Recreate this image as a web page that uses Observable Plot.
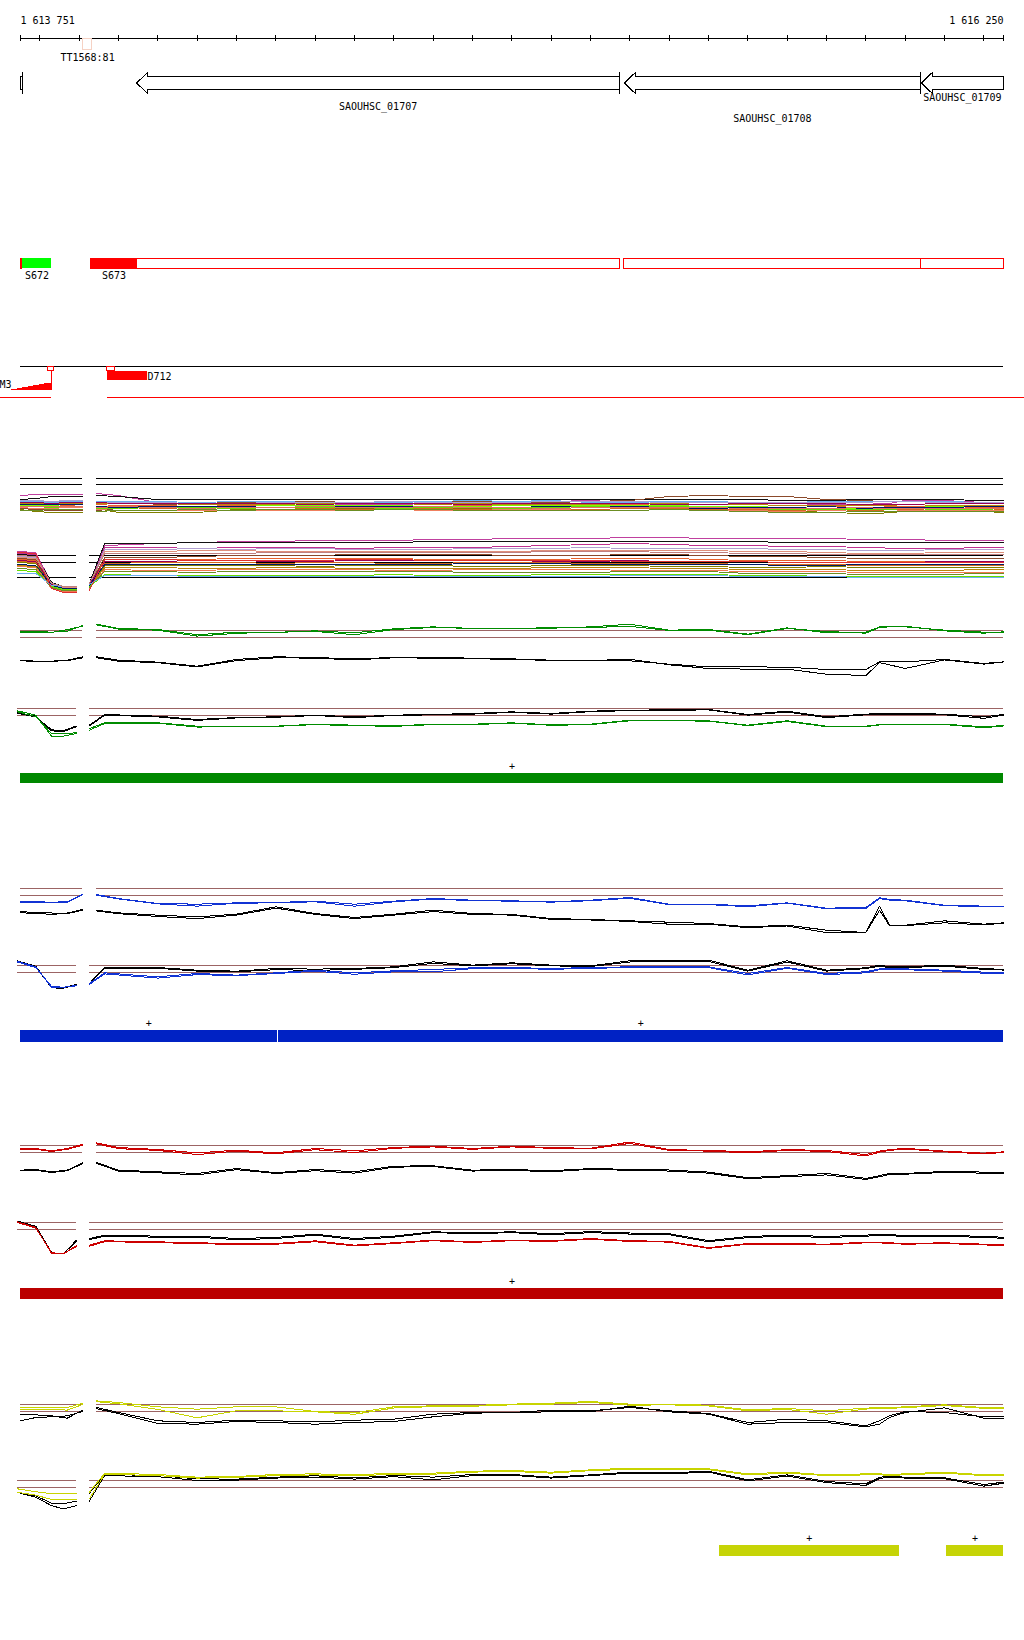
<!DOCTYPE html>
<html>
<head>
<meta charset="utf-8">
<script src="https://cdn.jsdelivr.net/npm/d3@7"></script>
<script src="https://cdn.jsdelivr.net/npm/@observablehq/plot@0.6"></script>
<style>
html,body{margin:0;padding:0;background:#fff;}
#page{position:relative;width:1024px;height:1640px;overflow:hidden;background:#fff;}
#page svg{position:absolute;left:0;}
#page svg path, #page svg line, #page svg rect{shape-rendering:crispEdges;}
</style>
</head>
<body>
<div id="page"></div>
<script>
// ================= DATA =================
const START = 1613751, END = 1616250;
const endLabels = ["1 613 751", "1 616 250"];
const rulerTicks = d3.range(1613800, 1616201, 100);

// genes (all on minus strand)
const geneNames  = ["SAOUHSC_01706", "SAOUHSC_01707", "SAOUHSC_01708", "SAOUHSC_01709"];
const geneStarts = [1613180, 1614046, 1615286, 1616041];
const geneEnds   = [1613756, 1615274, 1616039, 1616420];
const geneLabelled = [false, true, true, true];

// terminator
const ttNames = ["TT1568:81"];
const ttStarts = [1613909];
const ttEnds = [1613934];

// segments S672 / S673
const segNames = ["S672", "S673"];
const segCoreStarts = [1613756, 1613929];
const segCoreEnds = [1613830, 1614048];
const segBoxStarts = [1613751, 1613929, 1615286, 1616039];
const segBoxEnds = [1613756, 1615274, 1616039, 1616250];

// M3 / D712
const m3Name = "M3";
const m3X = [1613728, 1613743, 1613756, 1613771, 1613784, 1613799, 1613812, 1613830];
const m3H = [0.7, 1.7, 2.7, 3.7, 4.7, 5.7, 6.7, 7.3];
const d712Name = "D712";
const d712Starts = [1613972];
const d712Ends = [1614074];
const probeStarts = [1613820, 1613972];
const probeEnds = [1613836, 1613992];
const redBaseStarts = [1613700, 1613972];
const redBaseEnds = [1613830, 1616303];

// transcription units
const tuTracks = ["green", "blue", "blue", "red", "yellow", "yellow"];
const tuStarts = [1613751, 1613751, 1614406, 1613751, 1615528, 1616105];
const tuEnds = [1616250, 1614403.5, 1616250, 1616250, 1615985, 1616250];
const tuStrands = ["+", "+", "+", "+", "+", "+"];

// probe positions (5 left of gap, 27 right of gap)
const posTop = [1613751,1613790,1613830,1613870,1613909,1613944,1614000,1614100,1614200,1614300,1614400,1614500,1614600,1614700,1614800,1614900,1615000,1615100,1615200,1615300,1615400,1615500,1615600,1615700,1615800,1615900,1615935,1615960,1616000,1616100,1616200,1616250];
const posBottom = [1613743,1613790,1613830,1613860,1613893,1613926,1613965,1614100,1614200,1614300,1614400,1614500,1614600,1614700,1614800,1614900,1615000,1615100,1615200,1615300,1615400,1615500,1615600,1615700,1615800,1615900,1615935,1615960,1616000,1616100,1616200,1616250];

// multi-condition cluster A (upper)
const clusterAColors = ["#c0409f","#111111","#8b4a2b","#808000","#e8622b","#d2691e","#6ab0f0","#a8a0d4","#7cfc00","#b8860b","#990055","#001a66","#f08060","#6b8e23","#66dd00","#e07060"];
const clusterA = [
 [23,24,24,24,24, 25,23,16,15,14,14,15,14,14,15, 14,15,19,18,16,15,14,14,15,14, 14,15,15,18,18,16,15],
 [19,20,22,22,22, 23,22,19,19,19,19,19,19,19,19, 19,19,19,19,19,19,19,19,18,18, 19,19,19,19,19,18,18],
 [10,9,8,8,8, 8,10,14,15,16,16,17,16,17,17, 17,16,16,17,18,22,23,22,22,19, 18,17,17,17,16,16,16],
 [9,7,6,6,6, 10,6,6,6,9,9,10,10,9,10, 10,9,10,11,11,10,10,9,8,6, 5,5,6,7,8,7,6],
 [13,14,14,13,14, 14,13,13,12,13,13,12,13,12,12, 13,13,12,13,14,13,12,12,11,12, 11,11,12,12,12,11,11],
 [11,12,12,11,11, 10,11,10,9,10,9,10,9,10,10, 9,10,10,9,10,10,9,9,8,9, 8,8,9,9,10,10,9],
 [17,17,16,17,17, 17,17,17,16,17,17,16,16,16,17, 18,17,18,16,16,17,17,16,16,17, 17,17,17,17,17,16,16],
 [18,18,17,18,18, 16,16,16,15,15,16,16,16,17,16, 16,16,17,17,17,16,16,16,16,16, 16,17,17,17,16,16,16],
 [13,13,13,12,12, 12,12,11,11,12,13,13,13,13,12, 12,13,13,13,13,13,12,12,11,10, 10,11,11,11,12,12,12],
 [15,15,15,15,15, 15,15,15,14,14,14,15,15,15,14, 15,14,14,14,15,15,14,14,13,13, 13,13,13,14,13,13,13],
 [16,16,15,16,16, 16,15,15,15,15,15,14,15,15,15, 14,15,15,15,15,14,14,15,15,15, 14,14,14,14,15,15,15],
 [14,14,14,14,14, 12,11,12,12,12,11,11,12,12,11, 11,11,12,12,12,11,10,11,11,12, 10,11,11,11,11,12,12],
 [11,10,10,11,11, 9,8,8,8,8,8,8,8,9,8, 8,9,9,8,8,9,8,8,7,8, 7,7,7,8,8,8,8],
 [8,8,9,9,9, 7,8,8,9,8,9,9,8,9,9, 8,8,8,8,8,9,8,7,6,6, 7,7,7,7,7,7,7],
 [12,12,11,12,12, 10,10,11,11,10,11,11,11,10,11, 11,10,11,12,11,12,11,10,9,9, 9,9,9,10,9,9,10],
 [12,12,12,12,12, 11,12,11,10,11,11,12,11,11,12, 11,11,10,11,11,11,11,10,10,10, 11,10,10,10,10,10,10]
];
const clusterARefs = [40, 34];

// multi-condition cluster B (lower)
const clusterBColors = ["#c0409f","#111111","#c03090","#b0a0d0","#e0907a","#8b4a2b","#e8622b","#d2691e","#808000","#990055","#001a66","#b8860b","#f07850","#6b8e23","#66dd00","#6ab0f0","#e03030","#c08080"];
const clusterB = [
 [44,43,12,8,8, 10,50,52,53,54,54,55,55,55,56, 56,57,57,57,58,58,57,57,57,57, 56,56,56,56,55,55,55],
 [41,40,13,9,9, 12,52,52,53,53,53,53,53,53,54, 54,54,54,54,54,54,54,54,53,53, 53,53,53,53,53,53,53],
 [42,41,11,6,6, 8,48,48,47,48,48,48,47,48,48, 48,49,50,51,52,51,50,50,49,49, 48,48,47,47,47,48,48],
 [39,38,12,7,7, 9,46,46,47,46,47,47,46,46,46, 47,47,47,48,47,47,47,47,46,46, 45,45,45,45,46,46,46],
 [38,37,11,8,8, 8,44,44,45,45,44,44,44,44,44, 44,44,45,45,45,45,45,44,44,43, 42,42,42,42,43,43,43],
 [37,36,9,6,6, 10,38,38,39,40,40,40,41,41,41, 41,40,40,40,41,41,40,39,39,38, 37,37,37,37,37,37,37],
 [36,35,10,5,5, 7,36,36,36,37,37,37,37,37,36, 36,36,36,37,37,37,36,35,35,35, 34,34,34,34,34,34,34],
 [34,33,8,4,4, 6,32,33,33,33,32,33,33,32,32, 33,33,33,32,32,32,32,31,31,31, 30,30,30,30,30,30,30],
 [33,32,9,6,6, 9,30,30,30,30,30,29,30,30,30, 29,29,30,30,30,29,29,28,28,29, 28,28,28,28,28,28,28],
 [35,34,11,7,7, 11,34,34,35,35,34,34,35,35,35, 35,35,34,34,35,34,34,34,33,33, 33,33,33,33,34,34,34],
 [31,30,10,7,7, 10,31,31,31,31,31,31,31,31,31, 32,32,32,31,31,31,31,31,30,30, 31,31,31,31,31,31,31],
 [30,29,8,5,5, 8,28,28,27,27,28,28,27,27,27, 27,27,28,28,28,27,27,26,26,26, 25,25,25,25,25,26,26],
 [29,28,7,4,4, 7,26,25,25,26,26,26,26,25,25, 26,26,26,26,25,25,25,24,24,24, 23,23,23,23,23,23,23],
 [27,26,8,5,5, 8,24,24,23,24,24,24,24,24,24, 23,23,23,23,24,24,24,22,22,22, 21,21,21,21,21,22,22],
 [25,24,9,6,6, 9,21,20,20,20,20,20,20,21,20, 20,20,21,21,21,21,21,20,20,19, 19,19,19,19,19,19,19],
 [22,22,10,9,9, 11,20,20,19,19,19,19,19,19,19, 19,19,19,19,20,20,20,19,19,19, 18,18,18,18,18,18,18],
 [43,42,7,3,3, 5,36,36,35,35,35,35,36,36,35, 35,35,35,35,34,34,34,34,33,33, 33,33,33,33,33,33,33],
 [40,39,12,9,9, 12,42,42,42,42,43,43,43,43,43, 43,43,44,44,44,43,43,42,42,41, 41,41,41,41,41,41,41]
];
const clusterBRefs = [40, 33, 18];

// single-condition tracks (values relative to threshold lines at 1 and 0)
const greenTopGreen1 = [0.86,0.86,0.76,0.9,1.71, 1.9,1.29,1.14,0.4,0.76,0.71,0.95,0.67,1.24,1.52, 1.24,1.33,1.33,1.52,1.9,1.05,1.14,0.48,1.38,0.67, 0.76,1.52,1.62,1.62,0.95,0.62,0.81];
const greenTopGreen2 = [0.71,0.76,0.71,1.14,1.62, 1.81,1.2,1.05,0.2,0.6,0.76,0.86,0.4,1.14,1.43, 1.33,1.24,1.43,1.43,1.6,1.0,1.05,0.4,1.29,0.86, 0.62,1.43,1.52,1.52,1.05,0.76,0.76];
const greenTopBlack1 = [-3.24,-3.38,-3.38,-3.24,-2.76, -2.76,-3.24,-3.52,-4.1,-3.14,-2.76,-2.86,-3.05,-2.86,-2.86, -2.95,-3.05,-3.24,-3.24,-3.33,-3.81,-4.19,-4.19,-4.24,-4.57, -4.57,-3.48,-3.48,-3.48,-3.14,-3.71,-3.48];
const greenTopBlack2 = [-3.3,-3.45,-3.4,-3.3,-2.9, -2.9,-3.38,-3.6,-4.2,-3.3,-2.9,-2.95,-3.2,-2.9,-2.95, -3.05,-3.1,-3.3,-3.3,-3.1,-3.9,-4.43,-4.52,-4.52,-5.24, -5.43,-3.6,-3.9,-4.43,-3.2,-3.8,-3.5];
const greenBotGreen1 = [0.67,0.05,-2.95,-2.95,-2.57, -1.86,-1.05,-1.05,-1.52,-1.52,-1.52,-1.24,-1.38,-1.48,-1.24, -1.24,-1.05,-1.33,-1.24,-0.67,-0.67,-0.76,-1.38,-0.76,-1.52, -1.52,-1.3,-1.24,-1.24,-1.24,-1.62,-1.43];
const greenBotGreen2 = [0.52,-0.19,-2.57,-2.57,-2.48, -2.1,-1.15,-1.1,-1.65,-1.6,-1.55,-1.3,-1.45,-1.55,-1.3, -1.3,-1.1,-1.4,-1.3,-0.76,-0.76,-0.8,-1.45,-0.85,-1.6, -1.6,-1.35,-1.3,-1.3,-1.3,-1.75,-1.5];
const greenBotBlack1 = [0.43,-0.1,-2.19,-2.29,-1.62, -1.38,0.14,-0.1,-0.57,-0.29,-0.19,0.05,-0.19,0.05,0.14, 0.29,0.52,0.29,0.62,0.76,0.81,0.86,0.14,0.62,-0.19, 0.19,0.29,0.29,0.29,0.19,-0.19,0.14];
const greenBotBlack2 = [0.33,-0.2,-2.05,-2.15,-1.5, -1.5,0.05,-0.2,-0.7,-0.35,-0.25,0.0,-0.3,0.0,0.1, 0.2,0.45,0.2,0.55,0.7,0.75,0.8,0.05,0.5,-0.3, 0.1,0.2,0.2,0.2,0.1,-0.4,0.05];

const blueTopBlue1 = [-0.9,-0.9,-0.95,-0.9,0.19, 0.14,-0.43,-1.14,-1.24,-1.05,-1.0,-0.81,-1.24,-0.81,-0.43, -0.67,-0.76,-0.9,-0.67,-0.29,-1.24,-1.24,-1.48,-1.05,-1.81, -1.71,-0.33,-0.57,-0.67,-1.38,-1.52,-1.52];
const blueTopBlue2 = [-1.0,-1.0,-1.05,-0.95,0.1, 0.05,-0.5,-1.2,-1.52,-1.1,-1.05,-0.9,-1.52,-0.9,-0.5, -0.75,-0.8,-0.95,-0.75,-0.4,-1.3,-1.3,-1.6,-1.1,-1.9, -1.85,-0.45,-0.65,-0.75,-1.45,-1.6,-1.55];
const blueTopBlack1 = [-2.33,-2.4,-2.5,-2.5,-2.0, -2.1,-2.48,-2.81,-3.05,-2.67,-1.62,-2.57,-3.14,-2.67,-2.1, -2.57,-2.71,-3.29,-3.43,-3.62,-3.81,-4.0,-4.48,-4.24,-4.95, -5.29,-1.52,-4.24,-4.24,-3.62,-4.1,-3.9];
const blueTopBlack2 = [-2.45,-2.6,-2.67,-2.6,-2.1, -2.2,-2.6,-3.0,-3.3,-2.8,-1.8,-2.7,-3.3,-2.8,-2.3, -2.7,-2.8,-3.4,-3.5,-3.7,-4.1,-4.1,-4.6,-4.35,-5.29, -5.29,-2.1,-4.3,-4.3,-3.9,-4.2,-3.95];
const blueBotBlue1 = [1.62,0.81,-2.14,-2.14,-1.81, -1.57,-0.05,-0.62,-0.14,-0.38,-0.05,0.33,-0.05,0.24,0.43, 0.67,0.71,0.57,0.71,0.81,0.81,0.81,-0.14,0.71,-0.14, 0.1,0.52,0.52,0.52,0.33,0.05,-0.05];
const blueBotBlue2 = [1.5,0.7,-2.0,-2.1,-1.9, -1.7,-0.2,-0.8,-0.3,-0.45,-0.15,0.2,-0.25,0.1,0.1, 0.55,0.6,0.45,0.6,0.7,0.7,0.7,-0.35,0.6,-0.3, -0.05,0.4,0.4,0.4,0.2,-0.1,-0.15];
const blueBotBlack1 = [1.67,0.9,-2.2,-2.24,-1.75, -1.57,0.71,0.71,0.33,0.19,0.57,0.48,0.57,0.81,1.52, 1.05,1.38,1.05,0.95,1.67,1.67,1.76,0.33,1.67,0.33, 0.67,1.05,0.81,0.81,1.05,0.57,0.43];
const blueBotBlack2 = [1.57,0.75,-2.1,-2.2,-1.7, -1.6,0.6,0.6,0.2,0.1,0.4,0.3,0.45,0.7,1.3, 0.95,1.25,0.95,0.85,1.5,1.55,1.6,0.2,1.5,0.2, 0.55,0.9,0.7,0.7,0.9,0.45,0.35];

const redTopRed1 = [0.57,0.57,0.24,0.57,1.19, 1.38,0.71,0.43,-0.05,0.33,-0.05,0.57,0.24,0.71,0.9, 0.57,0.9,0.7,0.6,1.5,0.4,0.3,0.1,0.4,0.3, -0.3,0.2,0.4,0.6,0.2,-0.1,0.1];
const redTopRed2 = [0.45,0.45,0.15,0.45,1.05, 1.25,0.55,0.3,-0.3,0.2,-0.2,0.4,0.0,0.6,0.8, 0.45,0.8,0.6,0.5,1.3,0.3,0.2,-0.05,0.3,0.15, -0.5,0.05,0.3,0.5,0.1,-0.2,0.0];
const redTopBlack1 = [-2.52,-2.43,-2.76,-2.52,-1.48, -1.43,-2.52,-2.76,-3.0,-2.29,-2.9,-2.43,-2.76,-1.95,-1.9, -2.52,-2.43,-2.6,-2.3,-2.4,-2.5,-2.8,-3.6,-3.3,-3.0, -3.7,-3.3,-3.0,-3.0,-2.7,-2.8,-2.9];
const redTopBlack2 = [-2.6,-2.55,-2.85,-2.6,-1.6, -1.55,-2.65,-2.9,-3.2,-2.45,-3.0,-2.6,-2.95,-2.1,-2.0, -2.65,-2.55,-2.75,-2.4,-2.55,-2.65,-2.95,-3.75,-3.45,-3.2, -3.85,-3.45,-3.15,-3.1,-2.85,-2.95,-3.05];
const redBotRed1 = [1.1,0.3,-3.43,-3.43,-2.48, -2.24,-1.62,-1.76,-1.9,-2.0,-2.0,-1.62,-2.24,-1.9,-1.52, -1.76,-1.52,-1.6,-1.3,-1.6,-1.7,-2.6,-2.0,-2.0,-2.1, -1.8,-1.8,-1.9,-2.0,-1.9,-2.1,-2.2];
const redBotRed2 = [1.0,0.2,-3.3,-3.5,-2.3, -2.4,-1.75,-1.85,-2.05,-2.1,-2.1,-1.75,-2.35,-2.0,-1.6, -1.85,-1.6,-1.7,-1.4,-1.7,-1.8,-2.7,-2.1,-2.1,-2.2, -1.9,-1.9,-2.0,-2.1,-2.0,-2.2,-2.3];
const redBotBlack1 = [1.2,0.45,-3.3,-3.5,-1.52, -1.29,-0.81,-0.95,-0.95,-1.29,-1.14,-0.67,-1.29,-0.95,-0.33, -0.48,-0.33,-0.6,-0.3,-0.5,-0.6,-1.6,-1.0,-0.8,-1.0, -0.8,-0.7,-0.7,-0.9,-0.8,-1.0,-1.1];
const redBotBlack2 = [1.1,0.35,-3.4,-3.45,-1.7, -1.45,-0.95,-1.1,-1.1,-1.45,-1.3,-0.8,-1.45,-1.1,-0.45, -0.6,-0.45,-0.75,-0.45,-0.65,-0.75,-1.75,-1.15,-0.95,-1.15, -0.95,-0.85,-0.85,-1.05,-0.95,-1.15,-1.25];

const yellowTopYellow1 = [0.57,0.57,0.5,0.57,1.19, 1.52,1.29,0.67,0.33,0.67,0.67,0.0,-0.19,0.67,0.81, 0.86,1.05,1.19,1.43,1.05,1.05,0.9,0.24,0.43,0.1, 0.48,0.57,0.57,0.67,0.95,0.57,0.57];
const yellowTopYellow2 = [0.33,0.3,0.3,0.2,1.0, 1.4,1.1,0.3,-0.9,0.1,0.1,-0.05,-0.4,0.5,0.7, 0.75,0.95,1.05,1.3,0.9,0.95,0.8,0.1,0.3,-0.38, 0.35,0.45,0.45,0.55,0.85,0.45,0.45];
const yellowTopBlack1 = [-0.38,-0.48,-0.62,-0.95,0.19, 0.57,-0.14,-1.33,-1.57,-1.24,-1.33,-1.48,-1.24,-1.1,-0.38, -0.14,-0.14,0.19,0.1,0.57,0.1,-0.29,-1.57,-1.1,-1.33, -2.05,-1.33,-0.62,0.0,-0.14,-0.76,-0.76];
const yellowTopBlack2 = [-1.33,-0.86,-0.76,-0.62,0.0, 0.4,-0.3,-1.7,-1.81,-1.43,-1.57,-1.81,-1.57,-1.43,-0.76, -0.24,-0.14,-0.05,-0.05,0.76,-0.05,-0.38,-1.81,-1.57,-1.57, -2.19,-1.81,-0.86,-0.14,0.52,-0.95,-0.95];
const yellowBotYellow1 = [-0.19,-0.6,-0.9,-0.9,-0.9, -0.67,2.05,1.86,1.48,1.57,1.86,1.95,1.81,2.05,2.05, 2.33,2.43,2.19,2.52,2.76,2.76,2.67,1.95,2.19,1.81, 1.95,1.95,1.86,1.95,2.19,1.81,1.86];
const yellowBotYellow2 = [-0.67,-1.1,-1.71,-1.71,-1.71, -1.62,1.9,1.7,1.35,1.45,1.7,1.8,1.65,1.9,1.9, 2.2,2.3,2.05,2.4,2.6,2.6,2.55,1.8,2.05,1.7, 1.8,1.8,1.75,1.8,2.05,1.7,1.75];
const yellowBotBlack1 = [-0.67,-1.2,-2.24,-2.33,-1.95, -0.81,1.86,1.71,1.24,1.19,1.48,1.67,1.38,1.71,1.48, 1.86,1.86,1.48,1.81,2.19,2.1,2.33,1.1,1.81,0.86, 0.52,1.48,1.57,1.48,1.38,0.43,0.76];
const yellowBotBlack2 = [-0.7,-1.4,-2.6,-3.05,-2.6, -1.95,1.7,1.55,1.0,1.05,1.35,1.5,1.2,1.55,1.1, 1.7,1.75,1.35,1.7,2.05,1.95,2.2,0.95,1.65,0.7, 0.3,1.3,1.45,1.35,1.25,0.2,0.6];

// ================= STYLE / LAYOUT =================
const FONT = "DejaVu Sans Mono";
const BROWN = "#9c6464";
const LINE = {green: "#008c00", blue: "#1133d4", red: "#cc0000", yellow: "#c8d400"};
const BAR = {green: "#008800", blue: "#0022c4", red: "#bb0000", yellow: "#c6d406"};
const L = {
  rulerY: 38, tickY1: 35, tickY2: 41, endLabelY: 20.5,
  ttY1: 38, ttY2: 49, ttLabelY: 57,
  geneMid: 82.5, bodyY1: 76, bodyY2: 89, headY1: 72, headY2: 93, headBp: 28, markY1: 72, markY2: 94,
  geneLabelY: [0, 106.5, 118.5, 97],
  segY1: 258, segY2: 268, segLabelY: 275,
  trackLineY: 366, probeY1: 366, probeY2: 370, m3Base: 390, d712Y1: 371, d712Y2: 380,
  m3LabelY: 384, d712LabelY: 376, redBaseY: 397,
  barY: {green: [773, 783], blue: [1030, 1042], red: [1288, 1299], yellow: [1545, 1556]}, plusGap: 7,
  clusterA: {top: 470, height: 50, range: [48, 8]},
  clusterB: {top: 530, height: 70, range: [65, 5]},
  brownTops: {greenTop: 630, greenBot: 708, blueTop: 888, blueBot: 965, redTop: 1145, redBot: 1222, yellowTop: 1404, yellowBot: 1480}
};

const page = document.getElementById("page");
const baseOpts = {
  width: 1024, marginLeft: 20, marginRight: 21, marginTop: 0, marginBottom: 0,
  x: {domain: [START, END], axis: null},
  color: {type: "identity"},
  style: {background: "transparent", overflow: "visible", fontFamily: FONT, fontSize: "10px", color: "#000"}
};
function mount(svg, top) {
  svg.style.position = "absolute";
  svg.style.left = "0px";
  svg.style.top = top + "px";
  svg.style.maxWidth = "none";
  page.appendChild(svg);
}

// ================= ANNOTATION LAYER =================
const geneRows = [];
geneNames.forEach((g, i) => {
  const s = geneStarts[i], e = Math.min(geneEnds[i], END);
  let pts;
  if (s >= START) {
    const h = s + L.headBp;
    pts = [[s, L.geneMid], [h, L.headY1], [h, L.bodyY1], [e, L.bodyY1], [e, L.bodyY2], [h, L.bodyY2], [h, L.headY2], [s, L.geneMid]];
  } else {
    pts = [[START, L.bodyY1], [e, L.bodyY1], [e, L.bodyY2], [START, L.bodyY2], [START, L.bodyY1]];
  }
  pts.forEach(([x, y]) => geneRows.push({g, x, y}));
});
const geneMarks = geneEnds.filter(e => e >= START && e <= END);
const geneLabels = geneNames.map((g, i) => ({
  g, x: (Math.max(geneStarts[i], START) + Math.min(geneEnds[i], END)) / 2, y: L.geneLabelY[i], show: geneLabelled[i]
})).filter(d => d.show);

const tt = ttNames.map((n, i) => ({n, s: ttStarts[i], e: ttEnds[i]}));
const segCore = segNames.map((n, i) => ({n, s: segCoreStarts[i], e: segCoreEnds[i], c: i === 0 ? "#00ff00" : "#ff0000"}));
const segBox = segBoxStarts.map((s, i) => ({s, e: segBoxEnds[i]}));
const m3 = m3X.map((x, i) => ({x, h: m3H[i]}));
const d712 = d712Starts.map((s, i) => ({s, e: d712Ends[i]}));
const probes = probeStarts.map((s, i) => ({s, e: probeEnds[i]}));
const redBase = redBaseStarts.map((s, i) => ({s, e: redBaseEnds[i]}));
const tus = tuTracks.map((t, i) => ({t, s: tuStarts[i], e: tuEnds[i], strand: tuStrands[i]}));

mount(Plot.plot({
  ...baseOpts,
  height: 1640,
  y: {domain: [0, 1640], range: [0, 1640], axis: null},
  marks: [
    // ruler
    Plot.ruleY([L.rulerY], {x1: START, x2: END, stroke: "#000"}),
    Plot.ruleX([START, ...rulerTicks, END], {y1: L.tickY1, y2: L.tickY2, stroke: "#000"}),
    Plot.text([endLabels[0]], {x: START, y: L.endLabelY, text: d => d, textAnchor: "start", fill: "#000"}),
    Plot.text([endLabels[1]], {x: END, y: L.endLabelY, text: d => d, textAnchor: "end", fill: "#000"}),
    // terminator
    Plot.rect(tt, {x1: "s", x2: "e", y1: L.ttY1, y2: L.ttY2, fill: "none", stroke: "#f6d2c4"}),
    Plot.text(tt, {x: d => (d.s + d.e) / 2, y: L.ttLabelY, text: "n", fill: "#000"}),
    // genes
    Plot.line(geneRows, {x: "x", y: "y", z: "g", stroke: "#000", strokeWidth: 1}),
    Plot.ruleX(geneMarks, {y1: L.markY1, y2: L.markY2, stroke: "#000"}),
    Plot.text(geneLabels, {x: "x", y: "y", text: "g", fill: "#000"}),
    // segments
    Plot.rect(segBox, {x1: "s", x2: "e", y1: L.segY1, y2: L.segY2, fill: "none", stroke: "#ff0000"}),
    Plot.rect(segCore, {x1: "s", x2: "e", y1: L.segY1, y2: L.segY2, fill: "c"}),
    Plot.text(segCore, {x: d => (d.s + d.e) / 2, y: L.segLabelY, text: "n", fill: "#000"}),
    // M3 / D712 track
    Plot.ruleY([L.trackLineY], {x1: START, x2: END, stroke: "#000"}),
    Plot.areaY(m3, {x: "x", y1: L.m3Base, y2: d => L.m3Base - d.h, curve: "step-after", fill: "#ff0000"}),
    Plot.ruleX([m3X[m3X.length - 1]], {y1: L.probeY2, y2: L.m3Base, stroke: "#ff0000"}),
    Plot.rect(probes, {x1: "s", x2: "e", y1: L.probeY1, y2: L.probeY2, fill: "#fff", stroke: "#ff0000"}),
    Plot.rect(d712, {x1: "s", x2: "e", y1: L.d712Y1, y2: L.d712Y2, fill: "#ff0000"}),
    Plot.text([m3Name], {x: m3X[0], y: L.m3LabelY, text: d => d, textAnchor: "end", fill: "#000"}),
    Plot.text(d712, {x: "e", y: L.d712LabelY, text: () => d712Name, textAnchor: "start", fill: "#000"}),
    Plot.ruleY(redBase, {y: L.redBaseY, x1: "s", x2: "e", stroke: "#ff0000"}),
    // transcription units
    Plot.rect(tus, {x1: "s", x2: "e", y1: d => L.barY[d.t][0], y2: d => L.barY[d.t][1], fill: d => BAR[d.t]}),
    Plot.text(tus, {x: d => (d.s + d.e) / 2, y: d => L.barY[d.t][0] - L.plusGap, text: "strand", fill: "#000"})
  ]
}), 0);

// ================= VALUE TRACKS =================
function seriesRows(pos, seriesList, colors) {
  const rows = [];
  seriesList.forEach((vals, k) => {
    vals.forEach((v, i) => {
      rows.push({x: pos[i], v, z: k, c: colors[k]});
      if (i === 4) rows.push({x: (pos[4] + pos[5]) / 2, v: NaN, z: k, c: colors[k]});
    });
  });
  return rows;
}
function refRows(pos, levels) {
  const segs = [{s: pos[0], e: pos[4]}, {s: pos[5], e: END}];
  return levels.flatMap(r => segs.map(g => ({...g, r})));
}

function clusterPlot(lay, pos, series, colors, refs, domainMax) {
  mount(Plot.plot({
    ...baseOpts,
    height: lay.height,
    y: {domain: [0, domainMax], range: lay.range, axis: null},
    marks: [
      Plot.ruleY(refRows(pos, refs), {y: "r", x1: "s", x2: "e", stroke: "#000"}),
      Plot.line(seriesRows(pos, series, colors), {x: "x", y: "v", z: "z", stroke: "c", strokeWidth: 1})
    ]
  }), lay.top);
}
clusterPlot(L.clusterA, posTop, clusterA, clusterAColors, clusterARefs, 40);
clusterPlot(L.clusterB, posBottom, clusterB, clusterBColors, clusterBRefs, 60);

function singlePlot(brownTop, pos, colored, black, color) {
  const series = [...black, ...colored];
  const colors = [...black.map(() => "#000"), ...colored.map(() => color)];
  mount(Plot.plot({
    ...baseOpts,
    height: 90,
    y: {domain: [0, 1], range: [37, 30], axis: null},
    marks: [
      Plot.ruleY(refRows(pos, [1, 0]), {y: "r", x1: "s", x2: "e", stroke: BROWN}),
      Plot.line(seriesRows(pos, series, colors), {x: "x", y: "v", z: "z", stroke: "c", strokeWidth: 1})
    ]
  }), brownTop - 30);
}
const B = L.brownTops;
singlePlot(B.greenTop, posTop, [greenTopGreen1, greenTopGreen2], [greenTopBlack1, greenTopBlack2], LINE.green);
singlePlot(B.greenBot, posBottom, [greenBotGreen1, greenBotGreen2], [greenBotBlack1, greenBotBlack2], LINE.green);
singlePlot(B.blueTop, posTop, [blueTopBlue1, blueTopBlue2], [blueTopBlack1, blueTopBlack2], LINE.blue);
singlePlot(B.blueBot, posBottom, [blueBotBlue1, blueBotBlue2], [blueBotBlack1, blueBotBlack2], LINE.blue);
singlePlot(B.redTop, posTop, [redTopRed1, redTopRed2], [redTopBlack1, redTopBlack2], LINE.red);
singlePlot(B.redBot, posBottom, [redBotRed1, redBotRed2], [redBotBlack1, redBotBlack2], LINE.red);
singlePlot(B.yellowTop, posTop, [yellowTopYellow1, yellowTopYellow2], [yellowTopBlack1, yellowTopBlack2], LINE.yellow);
singlePlot(B.yellowBot, posBottom, [yellowBotYellow1, yellowBotYellow2], [yellowBotBlack1, yellowBotBlack2], LINE.yellow);
</script>
</body>
</html>
